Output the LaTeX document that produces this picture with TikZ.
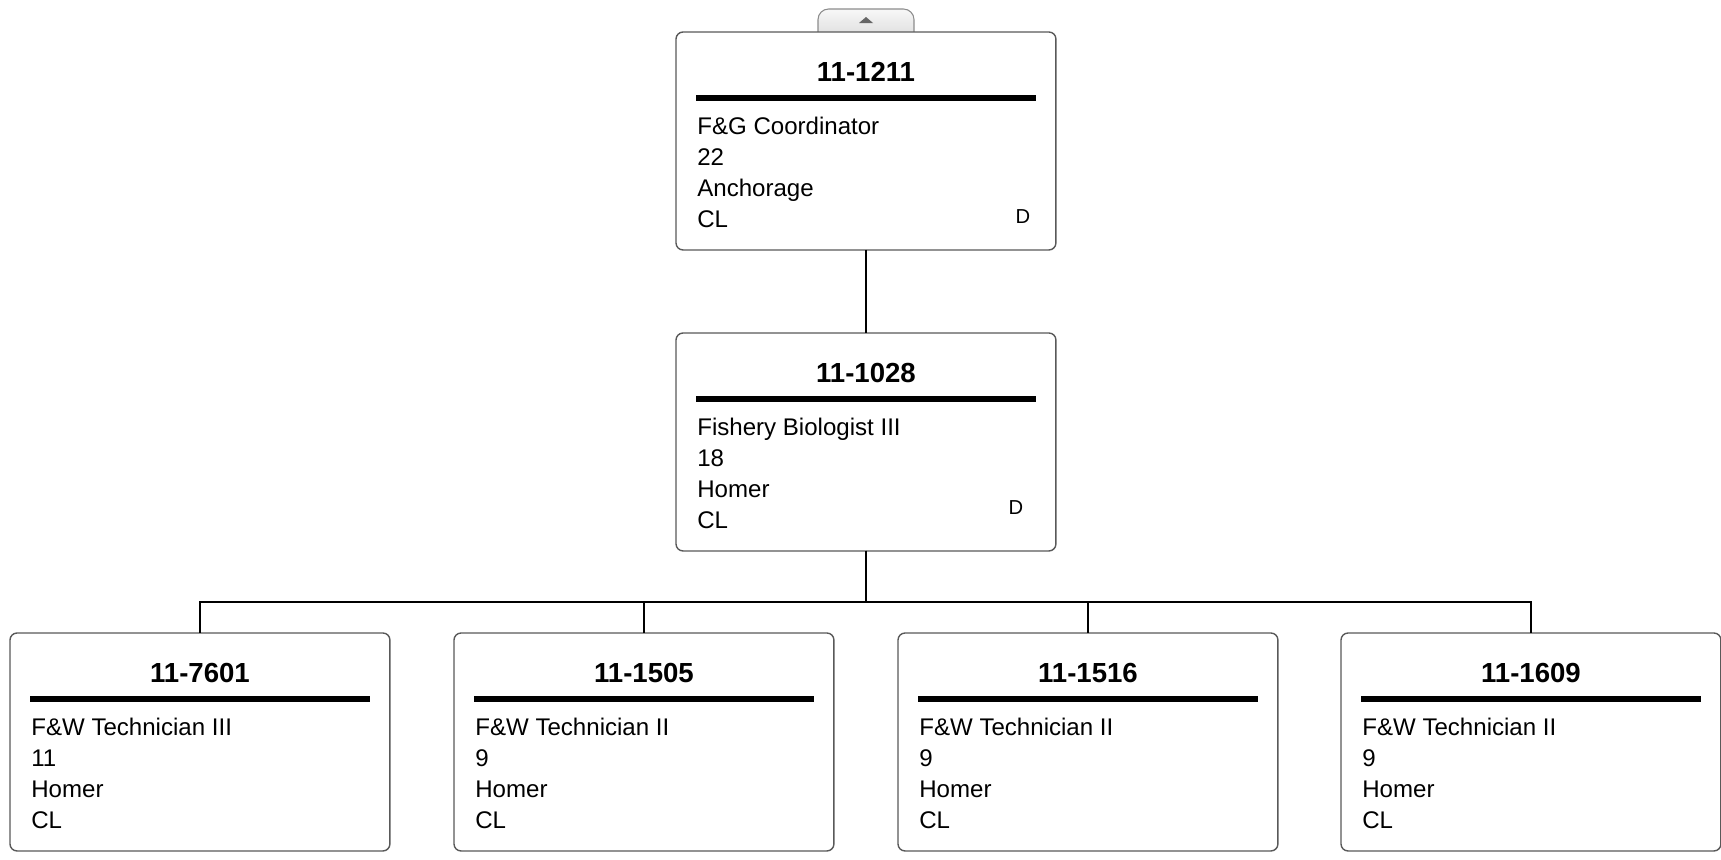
\documentclass[tikz,border=0pt]{standalone}
\usepackage{fontspec}
\setmainfont{Liberation Sans}
\usetikzlibrary{positioning, calc}

% one position card: name, left, top, number, title, grade, town
\newcommand{\poscard}[7]{%
  \node[card, anchor=north west] (#1) at (#2,#3) {};
  \node[numtxt] (#1-num) at ($(#1.north)+(0,40)$) {#4};
  \draw[bar] ($(#1.north west)+(20,66)$) -- ($(#1.north east)+(-20,66)$);
  \node[linetxt] (#1-ttl) at ($(#1.north west)+(21,102)$) {#5};
  \node[linetxt] (#1-grd) at ($(#1.north west)+(21,133)$) {#6};
  \node[linetxt] (#1-twn) at ($(#1.north west)+(21,164)$) {#7};
  \node[linetxt] (#1-cls) at ($(#1.north west)+(21,195)$) {CL};
}

\begin{document}
\begin{tikzpicture}[x=0.02cm, y=-0.02cm,
  card/.style={draw=black!65, line width=0.8pt, rounded corners=4pt, fill=white,
               minimum width=7.6cm, minimum height=4.36cm, inner sep=0pt, outer sep=0pt},
  numtxt/.style={font=\fontsize{15.7}{18}\selectfont\bfseries, inner sep=0pt},
  linetxt/.style={font=\fontsize{13.7}{16}\selectfont, anchor=base west, inner sep=0pt},
  dtxt/.style={font=\fontsize{11.5}{13}\selectfont, anchor=base, inner sep=0pt},
  bar/.style={line width=3.4pt},
  link/.style={line width=1.1pt}]
  \useasboundingbox (0,0) rectangle (1721,859);
  % collapse tab
  \draw[draw=black!45, top color=black!3, bottom color=black!12, line width=0.6pt, rounded corners=6pt]
    (818,34) -- (818,9) -- (914,9) -- (914,34);
  \fill[black!60] (859,23) -- (873,23) -- (866,17) -- cycle;
  % cards
  \poscard{coord}{676}{32}{11-1211}{F\&G Coordinator}{22}{Anchorage}
  \node[dtxt] (coord-d) at (1023,223) {D};
  \poscard{bio}{676}{333}{11-1028}{Fishery Biologist III}{18}{Homer}
  \node[dtxt] (bio-d) at (1016,514) {D};
  \poscard{techa}{10}{633}{11-7601}{F\&W Technician III}{11}{Homer}
  \poscard{techb}{454}{633}{11-1505}{F\&W Technician II}{9}{Homer}
  \poscard{techc}{898}{633}{11-1516}{F\&W Technician II}{9}{Homer}
  \poscard{techd}{1341}{633}{11-1609}{F\&W Technician II}{9}{Homer}
  % reporting lines
  \draw[link] (coord.south) -- (bio.north);
  \coordinate (bus) at ($(bio.south)+(0,51)$);
  \foreach \t in {techa,techb,techc,techd}
    \draw[link] (bio.south) -- (bus) -| (\t.north);
\end{tikzpicture}
\end{document}
